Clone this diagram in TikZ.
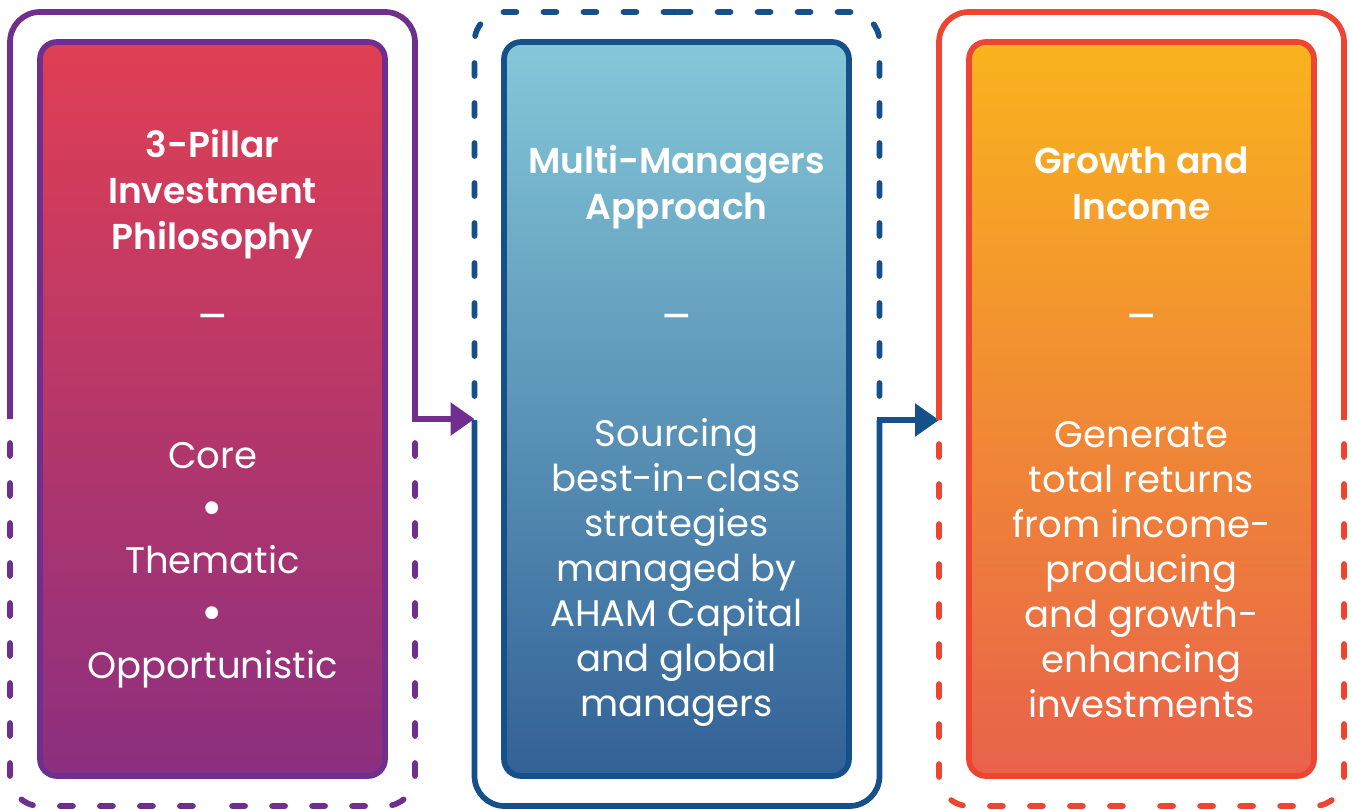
\documentclass[tikz,border=0pt]{standalone}
\usepackage{fontspec}
\setmainfont{Poppins}[BoldFont={* SemiBold}]
\usetikzlibrary{arrows.meta}
\definecolor{purp}{RGB}{112,47,143}
\definecolor{navy}{RGB}{22,80,138}
\definecolor{redl}{RGB}{238,68,50}
\definecolor{aTop}{RGB}{224,63,84}
\definecolor{aBot}{RGB}{140,47,127}
\definecolor{bTop}{RGB}{133,200,217}
\definecolor{bBot}{RGB}{50,97,150}
\definecolor{cTop}{RGB}{249,179,29}
\definecolor{cBot}{RGB}{232,98,75}
\newcommand{\bigbul}{\raisebox{-5pt}{\fontsize{52}{52.5}\selectfont •}}
\tikzset{
  innerbox/.style={draw, line width=5.7pt, rounded corners=17pt, minimum width=345pt, minimum height=734pt, inner sep=0pt, outer sep=0pt},
  framebox/.style={minimum width=405pt, minimum height=794pt, inner sep=0pt, outer sep=0pt},
  solidframe/.style={line width=5.7pt, rounded corners=30pt},
  dashframe/.style={line width=5.7pt, rounded corners=30pt, line cap=round, dash pattern=on 13pt off 27pt, dash phase=16pt},
  link/.style={line width=5.7pt, -{Triangle[length=24pt,width=32pt]}},
  titletext/.style={text=white, font=\fontsize{36}{46}\selectfont\bfseries, align=center, inner sep=0pt},
  bodytext/.style={text=white, font=\fontsize{37}{45}\selectfont, align=center, inner sep=0pt},
  dashtext/.style={text=white, font=\fontsize{45}{45}\selectfont, inner sep=0pt, anchor=base},
  bullettext/.style={text=white, font=\fontsize{37}{52.5}\selectfont, align=center, inner sep=0pt},
}
\begin{document}
\begin{tikzpicture}[x=1pt,y=-1pt]
\useasboundingbox (0,0) rectangle (1352,809);
% frames (invisible anchors)
\node[framebox] (o1) at (212.5,409) {};
\node[framebox] (o2) at (677,409) {};
\node[framebox] (o3) at (1141.5,409) {};
\coordinate (j1) at (0,419);
\coordinate (j2) at (0,420);
% inner boxes
\node[innerbox, draw=purp, top color=aTop, bottom color=aBot] (b1) at (212.5,409) {};
\node[innerbox, draw=navy, top color=bTop, bottom color=bBot] (b2) at (676.5,409) {};
\node[innerbox, draw=redl, top color=cTop, bottom color=cBot] (b3) at (1141.5,409) {};
% panel 1 frame
\draw[solidframe, purp] (o1.west |- j1) -- (o1.north west) -- (o1.north east) -- (o1.east |- j1);
\draw[link, purp] ([xshift=-2.85pt]o1.east |- j1) -- (o2.west |- j1);
\draw[dashframe, purp] (o1.west |- j1) -- (o1.south west) -- (o1.south);
\draw[dashframe, purp] (o1.east |- j1) -- (o1.south east) -- (o1.south);
% panel 2 frame
\draw[dashframe, navy] (o2.west |- j2) -- (o2.north west) -- (o2.north);
\draw[dashframe, navy] (o2.east |- j2) -- (o2.north east) -- (o2.north);
\draw[solidframe, navy] (o2.west |- j2) -- (o2.south west) -- (o2.south east) -- (o2.east |- j2);
\draw[link, navy] ([xshift=-2.85pt]o2.east |- j2) -- (o3.west |- j2);
% panel 3 frame
\draw[solidframe, redl] (o3.west |- j2) -- (o3.north west) -- (o3.north east) -- (o3.east |- j2);
\draw[dashframe, redl] (o3.west |- j2) -- (o3.south west) -- (o3.south);
\draw[dashframe, redl] (o3.east |- j2) -- (o3.south east) -- (o3.south);
% texts
\node[titletext] (t1) at (212.5,194) {3-Pillar\\Investment\\Philosophy};
\node[titletext] (t2) at (676.5,187) {Multi-Managers\\Approach};
\node[titletext] (t3) at (1141.5,183) {Growth and\\Income};
\node[dashtext] (d1) at (212.5,332) {–};
\node[dashtext] (d2) at (676.5,332) {–};
\node[dashtext] (d3) at (1141.5,332) {–};
\node[bullettext] (p1) at (212.5,565) {Core\\\bigbul\\Thematic\\\bigbul\\Opportunistic};
\node[bodytext] (p2) at (676.5,572.5) {Sourcing\\best-in-class\\strategies\\managed by\\AHAM Capital\\and global\\managers};
\node[bodytext] (p3) at (1141.5,569.5) {Generate\\total returns\\from income-\\producing\\and growth-\\enhancing\\investments};
\end{tikzpicture}
\end{document}
